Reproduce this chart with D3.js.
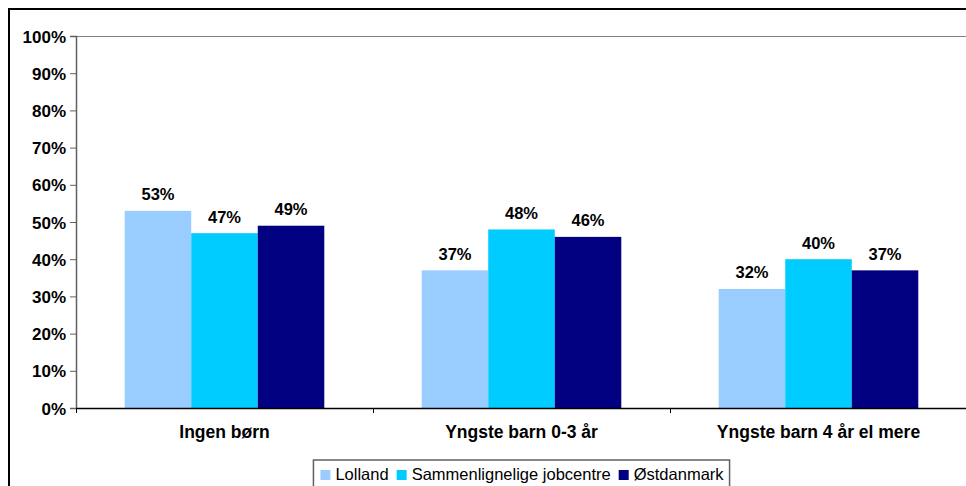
<!DOCTYPE html>
<html><head><meta charset="utf-8">
<script src="https://cdn.jsdelivr.net/npm/d3@7"></script>
<style>body{margin:0;background:#fff}svg{display:block}</style>
</head><body>
<svg id="c" width="966" height="486"></svg>
<script>
const categories = ["Ingen børn", "Yngste barn 0-3 år", "Yngste barn 4 år el mere"];
const seriesNames = ["Lolland", "Sammenlignelige jobcentre", "Østdanmark"];
const lolland = [53, 37, 32];
const sammenlignelige = [47, 48, 40];
const ostdanmark = [49, 46, 37];
const yTicks = [0, 10, 20, 30, 40, 50, 60, 70, 80, 90, 100];
const colors = ["#99CCFF", "#00CCFF", "#000080"];
const seriesValues = [lolland, sammenlignelige, ostdanmark];

const svg = d3.select("#c");
const font = "Arial, 'Liberation Sans', sans-serif";
const plot = {l: 76, t: 36, r: 967, b: 408};

// outer chart border
svg.append("rect").attr("x", 9).attr("y", 9).attr("width", 1000).attr("height", 1000)
  .attr("fill", "#fff").attr("stroke", "#000").attr("stroke-width", 2);

const x0 = d3.scaleBand().domain(categories).range([plot.l, plot.r]).paddingInner(0).paddingOuter(0);
const bw = x0.bandwidth() * 0.672;
const x1 = d3.scaleBand().domain(seriesNames).range([0, bw]);
const y = d3.scaleLinear().domain([0, 100]).range([plot.b, plot.t]);

// plot frame top line
svg.append("line").attr("x1", plot.l).attr("x2", plot.r).attr("y1", plot.t + 0.5).attr("y2", plot.t + 0.5)
  .attr("stroke", "#808080").attr("stroke-width", 1);

// bars
const g = svg.append("g");
categories.forEach((c, ci) => {
  const cx = x0(c) + (x0.bandwidth() - bw) / 2;
  seriesNames.forEach((s, si) => {
    const v = seriesValues[si][ci];
    g.append("rect").attr("x", cx + x1(s)).attr("y", y(v))
      .attr("width", x1.bandwidth()).attr("height", y(0) - y(v)).attr("fill", colors[si]);
    g.append("text").attr("x", cx + x1(s) + x1.bandwidth() / 2).attr("y", y(v) - 10.5)
      .attr("text-anchor", "middle").attr("font-family", font).attr("font-weight", "bold")
      .attr("font-size", "16.5px").attr("fill", "#000").text(v + "%");
  });
});

// y axis
const yAxis = svg.append("g").attr("transform", `translate(${plot.l},0)`)
  .call(d3.axisLeft(y).tickValues(yTicks).tickFormat(d => d + "%").tickSize(6).tickPadding(4));
yAxis.select(".domain").attr("stroke", "#606060").attr("stroke-width", 1.5);
yAxis.selectAll(".tick line").attr("stroke", "#606060");
yAxis.selectAll("text").attr("font-family", font).attr("font-weight", "bold")
  .attr("font-size", "17px").attr("fill", "#000").attr("dy", "0.36em");

// x axis
const xAxis = svg.append("g").attr("transform", `translate(0,${plot.b})`)
  .call(d3.axisBottom(x0).tickSize(0).tickPadding(18));
xAxis.select(".domain").attr("stroke", "#000").attr("stroke-width", 1.5);
xAxis.selectAll("text").attr("font-family", font).attr("font-weight", "bold")
  .attr("font-size", "17.5px").attr("fill", "#000");
// category separator ticks
categories.forEach(c => {
  xAxis.append("line").attr("x1", x0(c) + 0.5).attr("x2", x0(c) + 0.5).attr("y1", 0).attr("y2", 5)
    .attr("stroke", "#000");
});

// legend
const lg = svg.append("g");
const lbox = lg.append("rect").attr("y", 460).attr("height", 40)
  .attr("fill", "#fff").attr("stroke", "#606060").attr("stroke-width", 1.5);
let lx = 315;
seriesNames.forEach((s, i) => {
  lg.append("rect").attr("x", lx).attr("y", 470).attr("width", 10).attr("height", 10).attr("fill", colors[i]);
  const t = lg.append("text").attr("x", lx + 15).attr("y", 480).attr("font-family", font)
    .attr("font-size", "16.5px").attr("fill", "#000").text(s);
  lx += 15 + t.node().getComputedTextLength() + 8;
});
const lw = lx - 8 + 6 - 308;
const lstart = (plot.l + plot.r) / 2 - lw / 2;
lbox.attr("x", 308).attr("width", lw);
lg.attr("transform", `translate(${lstart - 308},0)`);
</script>
</body></html>
